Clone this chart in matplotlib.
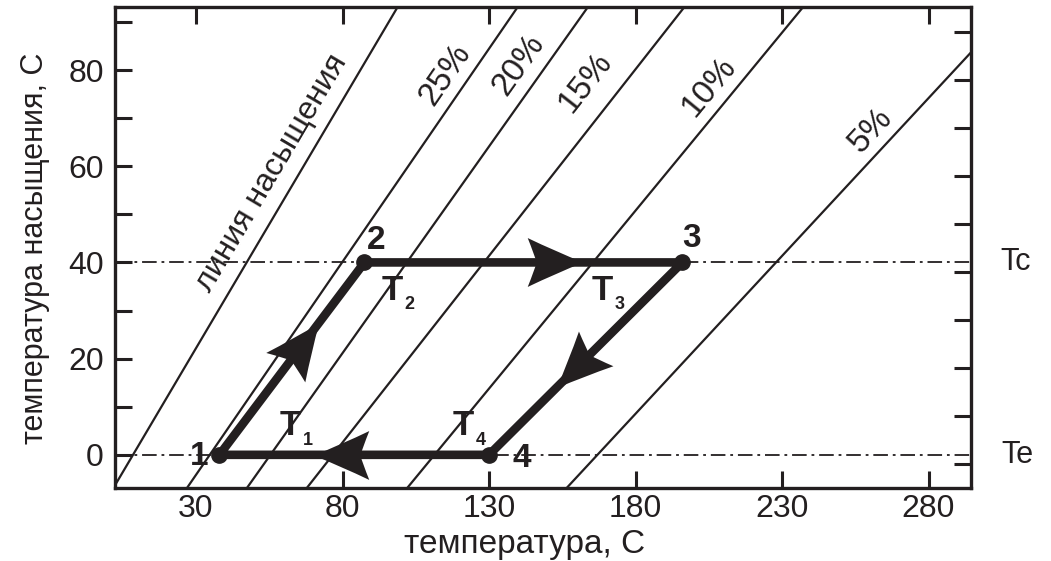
import numpy as np
import matplotlib.pyplot as plt
from matplotlib.markers import MarkerStyle
from matplotlib.path import Path
from matplotlib.transforms import Affine2D

plt.rcParams['font.family'] = ['Liberation Sans', 'DejaVu Sans']
plt.rcParams['lines.scale_dashes'] = False

ink = '#231f20'

# lines of constant concentration: temperature where Tsat = 0 and Tsat = 80
line_names = ['линия насыщения', '25%', '20%', '15%', '10%', '5%']
t_at_0 = [8.5, 34.7, 55.4, 76.7, 111.4, 167.0]
t_at_80 = [86.1, 125.0, 148.5, 179.8, 219.5, 288.9]

# cycle 1-2-3-4
cycle_t = [38.0, 87.5, 196.0, 130.0]
cycle_tsat = [0.0, 40.0, 40.0, 0.0]
point_names = ['1', '2', '3', '4']
Tc, Te = 40, 0

x_ticks = [30, 80, 130, 180, 230, 280]
y_ticks = [0, 20, 40, 60, 80]

# label placement (data coords)
name_pos = [(56.0, 58.5), (115.0, 79.0), (140.0, 81.0), (163.0, 77.5), (205.0, 76.5), (260.5, 67.5)]
point_pos = [(31.0, -0.4), (91.5, 44.6), (199.0, 45.0), (141.3, -0.8)]
seg_pos = [(62.1, 6.0), (96.9, 34.2), (168.6, 34.2), (121.1, 6.0)]
arrow_frac = [0.57, 0.60, 0.55, 0.55]

fig = plt.figure(figsize=(10.51, 5.61), dpi=100)
ax = fig.add_axes([0.1094, 0.1301, 0.9239 - 0.1094, 0.9875 - 0.1301])
ax.set_xlim(2.35, 294.5)
ax.set_ylim(-6.9, 93.1)

# concentration lines
ys = np.array([-20.0, 110.0])
for a, b in zip(t_at_0, t_at_80):
    ax.plot(a + (b - a) * ys / 80, ys, color=ink, lw=1.6, zorder=2)

# condensing / evaporating levels
for lvl in (Tc, Te):
    ax.axhline(lvl, color=ink, lw=1.3, dashes=(10.5, 3.5, 2.0, 3.5), zorder=1)

# cycle
ct = cycle_t + cycle_t[:1]
cs = cycle_tsat + cycle_tsat[:1]
ax.plot(ct, cs, color=ink, lw=6.2, solid_joinstyle='round', solid_capstyle='round', zorder=4)
ax.plot(cycle_t, cycle_tsat, 'o', color=ink, ms=11, zorder=5)

# arrow heads on each leg
head = Path([(0.5, 0), (0.0, 0.2), (-0.5, 0.44), (-0.38, 0.14), (-0.34, 0),
             (-0.38, -0.14), (-0.5, -0.44), (0.0, -0.2), (0.5, 0), (0.5, 0)],
            [Path.MOVETO, Path.CURVE3, Path.CURVE3, Path.CURVE3, Path.CURVE3,
             Path.CURVE3, Path.CURVE3, Path.CURVE3, Path.CURVE3, Path.CLOSEPOLY])
for i, f in enumerate(arrow_frac):
    p0 = np.array([cycle_t[i], cycle_tsat[i]])
    p1 = np.array([ct[i + 1], cs[i + 1]])
    d = ax.transData.transform(p1) - ax.transData.transform(p0)
    ang = np.degrees(np.arctan2(d[1], d[0]))
    m = MarkerStyle(head, transform=Affine2D().rotate_deg(ang))
    pm = p0 + f * (p1 - p0)
    ax.plot([pm[0]], [pm[1]], marker=m, ms=40, color=ink, mew=0, zorder=6)

# line names, turned along each line
for k, (name, (a, b), (x, y)) in enumerate(zip(line_names, zip(t_at_0, t_at_80), name_pos)):
    d = ax.transData.transform((b, 80)) - ax.transData.transform((a, 0))
    ang = np.degrees(np.arctan2(d[1], d[0]))
    ax.text(x, y, name, rotation=ang, rotation_mode='anchor', ha='center', va='center',
            fontsize=23 if k == 0 else 24, color=ink)

for name, (x, y) in zip(point_names, point_pos):
    ax.text(x, y, name, fontsize=24, fontweight='bold', ha='center', va='center', color=ink, zorder=7)

for i, (x, y) in enumerate(seg_pos):
    ax.text(x, y, 'T', fontsize=25, fontweight='bold', ha='center', va='center', color=ink, zorder=7)
    ax.text(x + 6.0, y - 3.0, str(i + 1), fontsize=13, fontweight='bold', ha='center', va='center',
            color=ink, zorder=7)

ax.text(304.5, Tc, 'Tc', fontsize=22, ha='left', va='center', color=ink, clip_on=False)
ax.text(305.0, Te, 'Te', fontsize=22, ha='left', va='center', color=ink, clip_on=False)

# axes frame and ticks
for s in ax.spines.values():
    s.set_linewidth(2.4)
    s.set_color(ink)
ax.set_xticks(x_ticks)
ax.set_yticks(y_ticks)
ax.set_yticks(np.arange(10, 100, 20), minor=True)
ax.tick_params(which='both', direction='in', length=12, width=2.2, color=ink,
               top=True, labelsize=23, labelcolor=ink)
ax.tick_params(axis='x', pad=4)
ax.tick_params(axis='y', pad=8)
ax.xaxis.get_major_ticks()[0].tick1line.set_visible(False)

# right side ticks are laid out on their own grid
ax2 = ax.twinx()
ax2.set_ylim(ax.get_ylim())
ax2.set_yticks(np.arange(-2, 90, 10))
ax2.tick_params(direction='in', length=12, width=2.2, color=ink, labelright=False)
for s in ax2.spines.values():
    s.set_visible(False)

ax.set_xlabel('температура, С', fontsize=24, color=ink)
ax.set_ylabel('температура насыщения, С', fontsize=22, color=ink)
ax.xaxis.label.set_va('center')
ax.yaxis.label.set_va('center')
ax.xaxis.set_label_coords(0.479, -0.118)
ax.yaxis.set_label_coords(-0.0935, 0.498)

fig.savefig('out.png', dpi=100)
